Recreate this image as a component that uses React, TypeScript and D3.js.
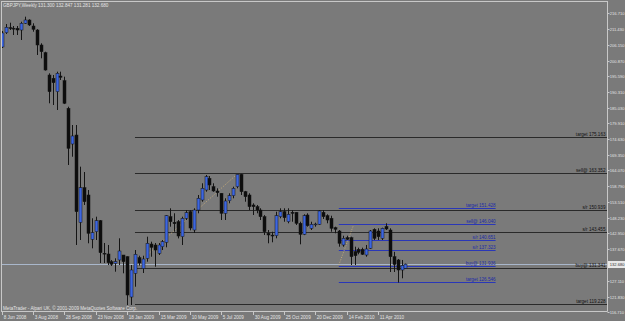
import React from "react";
import * as d3 from "d3";

// Weekly GBPJPY candles (one per week starting 8 Jun 2008)
const OPEN = [205.41, 210.2, 211.87, 211.67, 211.67, 211.1, 213.35, 214.45, 212.44, 211.1, 206.08, 203.5, 196.03, 194.92, 190.44, 195.69, 194.12, 184.88, 172.92, 175.93, 146.69, 158.28, 155.84, 141.0, 143.54, 147.23, 136.31, 136.08, 133.5, 132.96, 134.07, 135.74, 135.17, 121.67, 129.61, 134.84, 131.22, 134.64, 139.42, 139.09, 136.31, 138.52, 139.99, 148.57, 146.69, 146.89, 141.87, 148.03, 150.24, 144.11, 150.81, 154.16, 157.51, 161.43, 158.62, 157.18, 156.41, 149.71, 153.93, 155.6, 158.62, 162.77, 156.94, 155.84, 152.49, 151.92, 150.81, 148.57, 143.01, 142.4, 142.2, 148.57, 150.24, 146.89, 150.04, 150.04, 146.36, 142.67, 149.14, 144.68, 146.02, 146.02, 150.04, 148.9, 148.03, 144.88, 143.78, 139.09, 141.53, 141.53, 136.85, 137.65, 137.65, 135.74, 137.98, 144.35, 143.78, 141.33, 145.29, 144.11, 135.17, 134.07, 130.72, 131.3];
const HIGH = [210.77, 213.11, 213.55, 212.44, 212.44, 213.88, 215.56, 214.69, 213.35, 211.4, 206.65, 203.83, 196.6, 196.03, 197.14, 197.14, 195.46, 185.41, 179.28, 179.28, 165.32, 163.54, 157.51, 148.03, 148.57, 147.46, 139.76, 139.09, 134.07, 134.64, 141.33, 135.74, 135.3, 132.39, 137.41, 135.5, 135.5, 141.87, 140.2, 139.76, 139.76, 140.76, 149.1, 151.38, 149.71, 147.46, 148.57, 150.81, 150.81, 151.38, 155.84, 159.76, 162.54, 162.2, 159.76, 158.08, 156.41, 154.73, 156.41, 158.62, 162.8, 162.9, 157.2, 156.41, 153.06, 152.49, 151.4, 149.1, 144.11, 143.54, 150.24, 151.38, 151.38, 151.38, 150.81, 150.04, 146.89, 149.37, 149.71, 146.89, 146.56, 150.81, 150.81, 149.37, 148.9, 145.22, 144.11, 142.2, 142.2, 141.87, 138.52, 138.19, 138.19, 139.09, 144.11, 144.68, 144.68, 144.88, 146.36, 144.68, 136.8, 134.4, 134.07, 132.847];
const LOW = [205.07, 209.76, 211.1, 209.43, 209.43, 207.75, 213.11, 212.44, 210.53, 202.73, 201.62, 197.5, 186.55, 185.98, 184.31, 194.35, 186.3, 165.89, 168.66, 139.09, 140.76, 152.49, 139.66, 137.98, 140.76, 133.06, 133.06, 132.39, 132.06, 130.15, 132.39, 129.61, 118.99, 118.99, 125.12, 132.2, 129.71, 133.5, 135.17, 131.82, 135.74, 137.41, 138.32, 145.22, 143.54, 141.3, 139.09, 147.46, 144.0, 143.11, 149.71, 153.59, 156.94, 157.51, 156.9, 155.27, 147.46, 147.46, 153.06, 154.73, 158.08, 155.84, 153.59, 150.81, 149.14, 149.71, 147.46, 142.44, 139.66, 140.0, 141.33, 148.03, 146.89, 146.36, 146.89, 145.79, 139.32, 142.4, 145.22, 144.11, 145.22, 145.79, 147.8, 146.36, 143.54, 143.01, 138.52, 138.52, 140.76, 132.39, 132.39, 135.98, 135.74, 135.17, 137.75, 140.76, 140.76, 140.76, 144.11, 130.05, 130.05, 126.5, 127.94, 131.281];
const CLOSE = [210.1, 212.01, 211.6, 211.6, 211.1, 213.35, 214.45, 212.78, 211.34, 206.08, 203.83, 197.7, 190.44, 193.45, 196.6, 195.26, 186.55, 171.48, 175.6, 150.24, 158.28, 153.59, 143.01, 143.21, 147.23, 136.51, 136.2, 133.16, 132.63, 133.5, 137.08, 133.5, 122.34, 130.72, 135.98, 133.06, 134.4, 139.66, 138.32, 137.41, 139.09, 140.2, 148.9, 146.89, 146.22, 142.1, 148.03, 149.91, 144.78, 150.81, 154.73, 158.08, 161.97, 159.19, 157.18, 156.61, 149.71, 153.83, 155.6, 158.08, 162.77, 156.94, 155.27, 151.92, 151.92, 150.81, 148.57, 143.54, 142.44, 142.1, 148.9, 150.24, 148.23, 149.37, 149.71, 146.36, 142.67, 148.9, 145.55, 146.02, 146.1, 150.48, 148.57, 147.46, 144.68, 144.35, 139.66, 141.33, 141.0, 135.17, 135.51, 136.64, 135.98, 137.75, 143.78, 141.33, 141.87, 144.68, 144.45, 135.17, 132.56, 130.72, 132.22, 132.68];

const DATE_LABELS = ["8 Jun 2008", "3 Aug 2008", "28 Sep 2008", "23 Nov 2008", "18 Jan 2009", "15 Mar 2009", "10 May 2009", "5 Jul 2009", "30 Aug 2009", "25 Oct 2009", "20 Dec 2009", "14 Feb 2010", "11 Apr 2010"];
const DATE_LABEL_BARS = [0, 8, 16, 24, 32, 40, 48, 56, 64, 72, 80, 88, 96];

const PRICE_TICKS = [216.71, 211.43, 206.15, 200.87, 195.59, 190.31, 185.03, 179.91, 174.63, 169.35, 164.07, 158.79, 153.51, 148.23, 142.95, 137.67, 132.39, 127.11, 121.83, 116.71];

// Black horizontal levels (drawn from bar 34 to the right edge)
const LEVEL_VALUES = [175.163, 163.352, 150.939, 143.455, 131.341, 119.228];
const LEVEL_LABELS = ["target 175.163", "sell@ 163.352", "s/r 150.939", "s/r 143.455", "buy@ 131.341", "target 119.228"];
const LEVEL_START_BAR = 34;

// Blue level segments (bar 86 to bar 126)
const SR_VALUES = [151.428, 146.04, 140.651, 137.323, 131.936, 126.546];
const SR_LABELS = ["target 151.428", "sell@ 146.040", "s/r 140.651", "s/r 137.323", "buy@ 131.936", "target 126.546"];
const SR_START_BAR = 86;
const SR_END_BAR = 126;

// Dotted trend lines: [bar, price] pairs
const TREND_A = [[37.5, 136.2], [60, 162.8]];
const TREND_B = [[86, 132.4], [89.7, 145.6]];

const TITLE = "GBPJPY,Weekly  131.300 132.847 131.281 132.680";
const FOOTER = "MetaTrader - Alpari UK, \u00a9 2001-2009 MetaQuotes Software Corp.";
const LAST_PRICE = 132.68;

const FS = 4.6;
const AXFS = 4.05;
const FONT = "'Liberation Sans', Arial, sans-serif";

export default function App() {
  const x = d3.scaleLinear().domain([0, 126]).range([1.7, 1.7 + 126 * 3.92]);
  const y = d3.scaleLinear().domain([119.228, 175.163]).range([304.3, 137.3]);
  const cx = (i: number) => Math.round(x(i)) + 0.5;
  const py = (v: number) => Math.round(y(v)) + 0.5;
  const right = 607.5;
  const bottom = 311.5;
  const bars = d3.range(OPEN.length);
  const trend = d3.line<number[]>().x((d) => x(d[0])).y((d) => y(d[1]));

  return (
    <svg width={625} height={321} style={{ position: "absolute", left: 0, top: 0, display: "block" }} fontFamily={FONT}>
      <defs>
        <clipPath id="plot">
          <rect x={2} y={2} width={605} height={309} />
        </clipPath>
      </defs>
      <rect width={625} height={321} fill="#7a7a7a" />

      {/* title */}
      <text x={3} y={6.8} fontSize={FS} fill="#e4e4e4">{TITLE}</text>

      <g clipPath="url(#plot)">
        {/* current price line */}
        <line x1={2} x2={right} y1={py(LAST_PRICE)} y2={py(LAST_PRICE)} stroke="#a9b7cb" strokeWidth={1} />

        {/* black levels */}
        {LEVEL_VALUES.map((v, k) => (
          <g key={"lv" + k}>
            <line x1={x(LEVEL_START_BAR)} x2={right} y1={py(v)} y2={py(v)} stroke="#2a2a2a" strokeWidth={1} />
            <text x={605.5} y={py(v) - 1.3} fontSize={FS} fill="#111" textAnchor="end">{LEVEL_LABELS[k]}</text>
          </g>
        ))}

        {/* blue levels */}
        {SR_VALUES.map((v, k) => (
          <g key={"sr" + k}>
            <line x1={x(SR_START_BAR)} x2={x(SR_END_BAR)} y1={py(v)} y2={py(v)} stroke="#2a37b8" strokeWidth={1} />
            <text x={x(SR_END_BAR)} y={py(v) - 1.3} fontSize={FS} fill="#1c2aa8" textAnchor="end">{SR_LABELS[k]}</text>
          </g>
        ))}

        {/* dotted trend lines */}
        <path d={trend(TREND_A) || ""} stroke="#d8b878" strokeWidth={0.8} strokeDasharray="1,1.5" fill="none" />
        <path d={trend(TREND_B) || ""} stroke="#d8b878" strokeWidth={0.8} strokeDasharray="1,1.5" fill="none" />

        {/* candles */}
        {bars.map((i) => {
          const o = OPEN[i], c = CLOSE[i], h = HIGH[i], l = LOW[i];
          const up = c >= o;
          const top = y(Math.max(o, c));
          const bot = y(Math.min(o, c));
          const hgt = Math.max(0.8, bot - top);
          return (
            <g key={"c" + i}>
              <line x1={cx(i)} x2={cx(i)} y1={y(h)} y2={y(l)} stroke="#151515" strokeWidth={1} />
              <rect x={cx(i) - 1.5} y={top} width={3} height={hgt} fill={up ? "#3d66e0" : "#0d0d0d"} stroke="#151515" strokeWidth={0.5} />
            </g>
          );
        })}
      </g>

      {/* frame */}
      <line x1={1.5} x2={1.5} y1={1} y2={bottom} stroke="#c8c8c8" />
      <line x1={1} x2={right} y1={1.5} y2={1.5} stroke="#c8c8c8" />
      <line x1={right} x2={right} y1={1} y2={bottom} stroke="#c8c8c8" />
      <line x1={1} x2={right} y1={bottom} y2={bottom} stroke="#c8c8c8" />

      {/* price axis */}
      {PRICE_TICKS.map((v, k) => (
        <g key={"pt" + k}>
          <line x1={right} x2={right + 2} y1={py(v)} y2={py(v)} stroke="#c8c8c8" />
          <text x={609.8} y={py(v)} dy="0.35em" fontSize={AXFS} fill="#e4e4e4">{v.toFixed(3)}</text>
        </g>
      ))}
      <rect x={608} y={py(LAST_PRICE) - 3.5} width={17} height={7} fill="#e8e8e8" />
      <text x={609.8} y={py(LAST_PRICE)} dy="0.35em" fontSize={AXFS} fill="#333">{LAST_PRICE.toFixed(3)}</text>

      {/* time axis */}
      {DATE_LABEL_BARS.map((b, k) => (
        <g key={"dt" + k}>
          <line x1={cx(b)} x2={cx(b)} y1={bottom} y2={bottom + 3.5} stroke="#c8c8c8" />
          <text x={cx(b) + 1.2} y={319} fontSize={FS} fill="#e4e4e4">{DATE_LABELS[k]}</text>
        </g>
      ))}

      {/* footer */}
      <text x={3} y={310} fontSize={FS} fill="#e4e4e4">{FOOTER}</text>
    </svg>
  );
}
